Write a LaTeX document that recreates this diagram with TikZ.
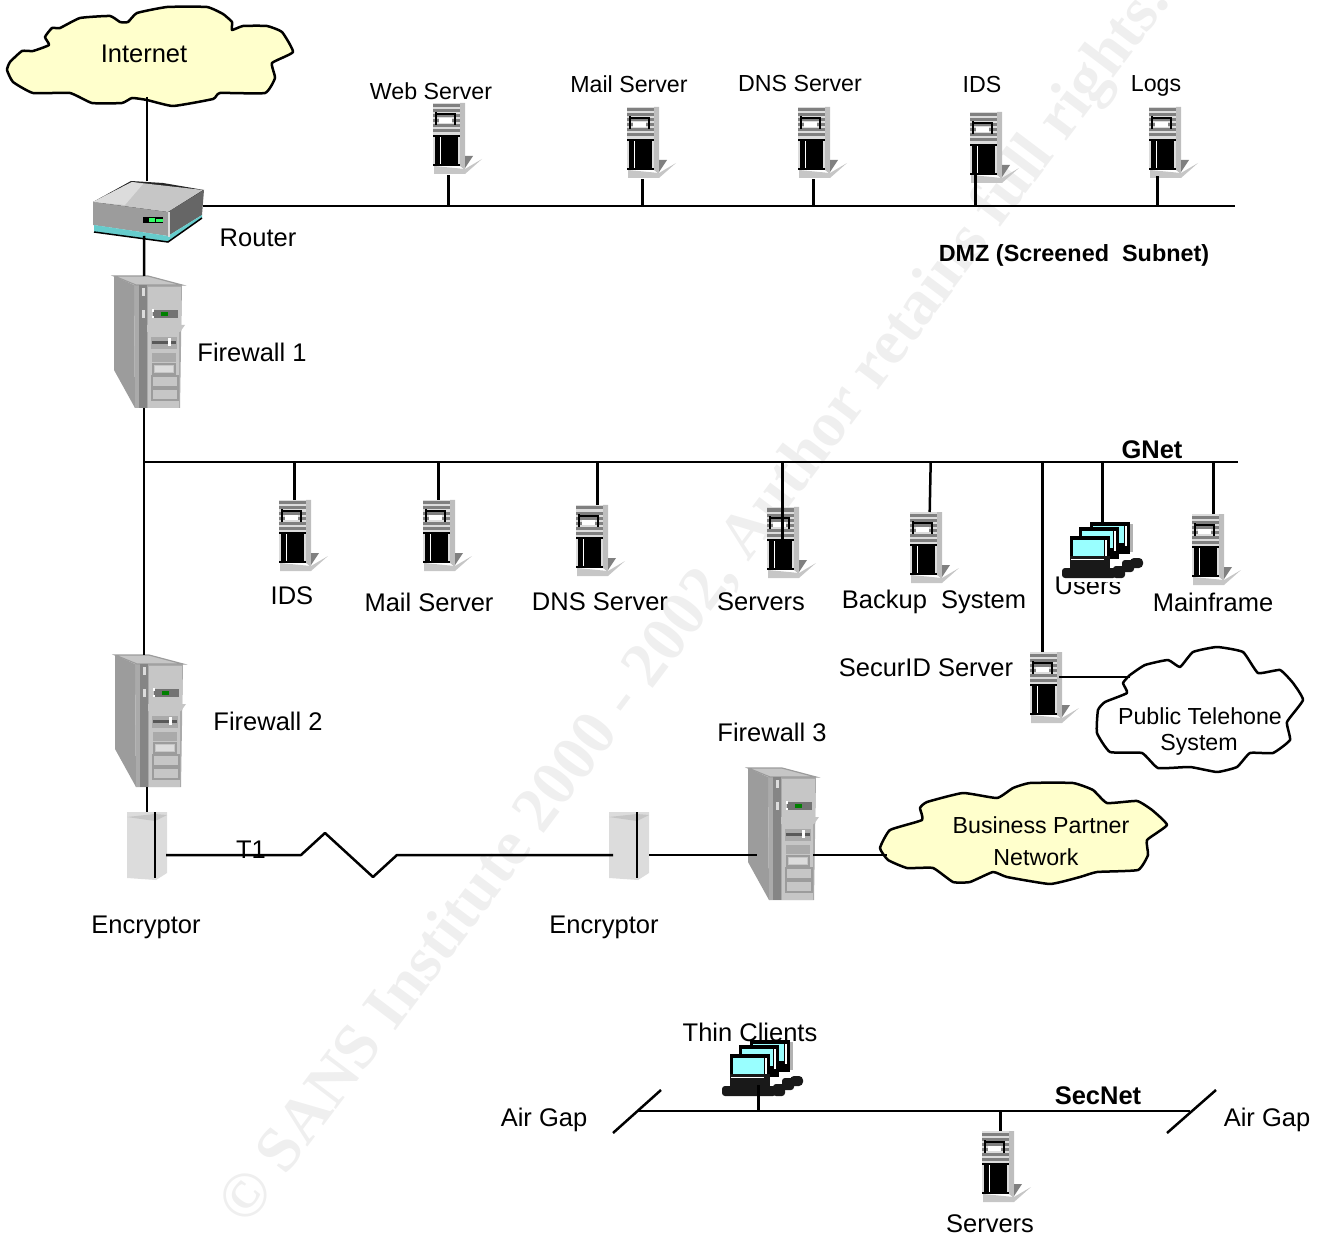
\documentclass[tikz,border=0pt]{standalone}
\usepackage{fontspec}
\setmainfont{Liberation Sans}
\newfontfamily\markfont{Liberation Serif}

\definecolor{cloudfill}{HTML}{FFFFCC}
\definecolor{srvlight}{HTML}{DCDCDC}
\definecolor{srvside}{HTML}{BEBEBE}
\definecolor{twrdark}{HTML}{9C9C9C}
\definecolor{twrmid}{HTML}{AAAAAA}
\definecolor{twrlight}{HTML}{C6C6C6}
\definecolor{pcscreen}{HTML}{99FFFF}
\definecolor{routerbase}{HTML}{66CCCC}
\definecolor{led}{HTML}{33FF66}
\definecolor{markgray}{HTML}{EFEFEF}

\tikzset{
    wire/.style={draw=black, line width=2.5pt},
    cloudline/.style={draw=black, line width=2.5pt, line join=round},
    lab/.style={font=\fontsize{25.5}{30}\selectfont, inner sep=0pt},
    smalllab/.style={font=\fontsize{23.2}{28}\selectfont, inner sep=0pt},
    boldlab/.style={font=\fontsize{25.5}{30}\selectfont\bfseries, inner sep=0pt},
    srvbox/.style={anchor=north west, minimum width=31pt, minimum height=72pt, inner sep=0pt},
    twrbox/.style={anchor=north west, minimum width=72pt, minimum height=132pt, inner sep=0pt},
    pcbox/.style={anchor=north west, minimum width=81pt, minimum height=58pt, inner sep=0pt},
    encbox/.style={anchor=north west, minimum width=40pt, minimum height=68pt, inner sep=0pt},
    routerbox/.style={anchor=north west, minimum width=111pt, minimum height=62pt, inner sep=0pt},
    rackserver/.pic={
        \fill[srvlight] (0,0) rectangle (27,63);
        \fill[srvside] (27,0) -- (32,0) -- (32,67) -- (27,63) -- cycle;
        \fill[twrlight] (1,63) -- (32,66) -- (49,56) -- (32,71) -- (1,71) -- cycle;
        \fill[gray] (32,53) -- (40,53) -- (32,65) -- cycle;
        \foreach \yy in {3,8,...,28}
            \draw[gray, line width=3pt] (0,\yy) -- (27,\yy);
        \draw[black, line width=1.5pt] (3,11) -- (22,11) -- (22,22) (3,9) -- (3,22);
        \fill[white] (6,15) rectangle (19,20);
        \fill[black] (2,33) rectangle (25,62);
        \draw[black, line width=2pt] (0,33) -- (27,33);
        \draw[black, line width=2pt] (0,62) -- (27,62);
        \draw[white, line width=0.8pt] (7,34) -- (7,61);
    },
    towerpc/.pic={
        \fill[twrmid] (20,9) -- (68,9) -- (66,132) -- (21,132) -- cycle;
        \fill[twrdark] (0,0) -- (20,9) -- (21,132) -- (0,94) -- cycle;
        \fill[twrlight] (0,0) -- (34,0) -- (68,9) -- (22,9) -- cycle;
        \draw[twrdark, line width=1.2pt] (0,0) -- (34,0) -- (68,9) -- (22,9) -- cycle;
        \fill[twrlight] (34,11) rectangle (67,49);
        \fill[black!55] (39,34) rectangle (64,42);
        \fill[green!50!black] (47,36) rectangle (54,40);
        \fill[white] (38,33) rectangle (40,36);
        \fill[white] (38,40) rectangle (40,42);
        \fill[twrlight] (30,49) -- (71,49) -- (66,56) -- (30,56) -- cycle;
        \fill[twrlight] (34,56) rectangle (65,132);
        \fill[twrmid] (37,61) rectangle (63,73);
        \fill[black!65] (38,65) rectangle (62,68);
        \fill[white] (54,62) rectangle (57,70);
        \fill[twrmid] (38,77) rectangle (62,86);
        \fill[srvlight] (41,90) rectangle (59,96);
        \draw[twrdark, line width=2pt] (39,88) rectangle (61,98);
        \draw[twrdark, line width=2pt] (38,100) rectangle (64,111);
        \draw[twrdark, line width=2pt] (38,113) rectangle (64,124);
        \fill[twrdark!85!black] (25,9) rectangle (33,132);
        \fill[srvlight] (28,12) rectangle (31,20);
        \fill[srvlight] (28,34) rectangle (31,42);
    },
    pcstack/.pic={
        \fill[gray!60] (68,2) rectangle (71,30);
        \foreach \mx/\my in {28/0,17/5,8/14} {
            \fill[black] (\mx,\my) rectangle ++(40,32);
            \fill[pcscreen] (\mx+3,\my+4) rectangle ++(31,17);
            \fill[white] (\mx+35,\my+4) rectangle ++(2,20);
        }
        \fill[black!90] (8,34) rectangle (48,46);
        \fill[white] (9,37) rectangle (42,38);
        \fill[black!90, rounded corners=3pt] (51,44) rectangle (63,56);
        \fill[black!90, rounded corners=3pt] (60,38) rectangle (72,50);
        \fill[black!90, rounded corners=4pt] (68,36) rectangle (81,46);
        \fill[black!90, rounded corners=3pt] (0,46) rectangle (54,56);
    },
    routerpc/.pic={
        \fill[black!85] (38,0) -- (70,2) -- (111,9) -- (75,34) -- (0,21) -- cycle;
        \fill[twrlight] (39,1) -- (110,9) -- (75,31) -- (0,21) -- cycle;
        \fill[srvlight] (0,21) -- (39,1) -- (50,3) -- (32,24) -- cycle;
        \fill[twrdark] (0,21) -- (75,31) -- (75,55) -- (0,44) -- cycle;
        \fill[black!60] (75,31) -- (111,9) -- (109,34) -- (75,55) -- cycle;
        \fill[routerbase] (1,44) -- (75,55) -- (109,34) -- (109,37) -- (75,61) -- (1,51) -- cycle;
        \draw[black, line width=1.5pt] (1,51) -- (75,61) -- (109,37);
        \fill[black] (50,36) rectangle (70,42);
        \fill[led] (56,37) rectangle (62,41);
        \fill[led] (63,38) rectangle (70,41);
        \fill[srvlight] (75,31) rectangle (77,56);
    },
    encryptorbox/.pic={
        \fill[srvlight] (0,0) -- (40,0) -- (40,61) -- (29,68) -- (0,66) -- cycle;
        \fill[twrlight] (0,5) -- (28,2) -- (40,3) -- (28,9) -- cycle;
        \draw[black, line width=2.5pt] (28,0) -- (28,66);
    },
}

\begin{document}
\begin{tikzpicture}[x=1pt, y=-1pt]
    \useasboundingbox (0,0) rectangle (1318,1238);

    % watermark
    \node[text=markgray, font=\fontsize{64}{70}\selectfont\markfont\bfseries, inner sep=0pt, rotate=53] (markline) at (697,605)
        {© SANS Institute 2000 - 2002, Author retains full rights.};

    % clouds
    \draw[cloudline, fill=cloudfill] plot[smooth cycle, tension=0.25] coordinates {
        (7,70) (10,62) (22,51) (33,51) (49,45) (45,37) (52,28) (60,28) (80,18) (110,16)
        (120,22) (128,22) (137,13) (167,7) (207,7) (223,14) (232,22) (232,30) (243,26)
        (267,26) (282,32) (293,52) (272,63) (275,78) (265,93) (220,93) (213,99) (173,106)
        (147,100) (132,98) (122,103) (92,103) (70,93) (33,93) (13,82)};
    \draw[cloudline, fill=white] plot[smooth cycle, tension=0.25] coordinates {
        (1130,675) (1145,665) (1168,660) (1180,667) (1193,652) (1217,647) (1243,652)
        (1258,673) (1280,670) (1293,683) (1303,700) (1287,722) (1290,740) (1273,753)
        (1250,753) (1237,767) (1217,772) (1190,767) (1158,768) (1142,753) (1110,752)
        (1097,733) (1098,710) (1105,702) (1127,693) (1123,683)};
    \draw[cloudline, fill=cloudfill] plot[smooth cycle, tension=0.25] coordinates {
        (880,848) (890,830) (922,820) (920,808) (927,802) (963,793) (997,798) (1013,788)
        (1030,783) (1073,783) (1093,790) (1107,803) (1137,801) (1152,810) (1167,825)
        (1147,840) (1148,855) (1138,870) (1097,872) (1080,877) (1050,884) (1007,877)
        (993,872) (970,882) (953,882) (933,868) (907,868) (888,860)};

    % labels
    \node[lab] (inettxt) at (144,54) {Internet};
    \node[smalllab] (webtxt) at (431,91) {Web Server};
    \node[smalllab] (mailtxt) at (629,84) {Mail Server};
    \node[smalllab] (dnstxt) at (800,84) {DNS Server};
    \node[smalllab] (idstxt) at (982,85) {IDS};
    \node[smalllab] (logstxt) at (1156,86) {Logs};
    \node[lab] (routertxt) at (258,238) {Router};
    \node[lab] (fwatxt) at (252,352) {Firewall 1};
    \node[smalllab, font=\fontsize{23.4}{28}\selectfont\bfseries] (dmztxt) at (1074,255) {DMZ (Screened\ \ Subnet)};
    \node[boldlab] (gnettxt) at (1152,450) {GNet};
    \node[lab] (gidstxt) at (292,596) {IDS};
    \node[lab] (gmailtxt) at (429,602) {Mail Server};
    \node[lab] (gdnstxt) at (600,602) {DNS Server};
    \node[lab] (gsrvtxt) at (761,602) {Servers};
    \node[lab] (backtxt) at (934,602) {Backup\ \ System};
    \node[lab] (userstxt) at (1088,586) {Users};
    \node[lab] (maintxt) at (1213,602) {Mainframe};
    \node[lab] (securtxt) at (926,668) {SecurID Server};
    \node[smalllab] (pstntxt) at (1200,716) {Public Telehone};
    \node[smalllab] (systxt) at (1199,745) {System};
    \node[lab] (fwbtxt) at (268,721) {Firewall 2};
    \node[lab] (fwctxt) at (772,732) {Firewall 3};
    \node[lab] (tonetxt) at (251,850) {T1};
    \node[smalllab] (bustxt) at (1041,825) {Business Partner};
    \node[smalllab] (nettxt) at (1036,857) {Network};
    \node[lab] (encatxt) at (146,927) {Encryptor};
    \node[lab] (encbtxt) at (604,927) {Encryptor};
    \node[lab] (thintxt) at (750,1032) {Thin Clients};
    \node[lab] (gapatxt) at (544,1120) {Air Gap};
    \node[boldlab] (sectxt) at (1098,1096) {SecNet};
    \node[lab] (gapbtxt) at (1267,1120) {Air Gap};
    \node[lab] (ssrvtxt) at (990,1224) {Servers};

    % equipment
    \node[routerbox] (routerb) at (93,181) {};
    \pic at (routerb.north west) {routerpc};
    \node[twrbox] (fwa) at (114,276) {};
    \pic at (fwa.north west) {towerpc};
    \node[twrbox] (fwb) at (115,655) {};
    \pic at (fwb.north west) {towerpc};
    \node[twrbox] (fwc) at (748,768) {};
    \pic at (fwc.north west) {towerpc};
    \node[encbox] (enca) at (127,812) {};
    \pic at (enca.north west) {encryptorbox};
    \node[encbox] (encb) at (609,812) {};
    \pic at (encb.north west) {encryptorbox};

    \node[srvbox] (webb) at (433,103) {};
    \pic at (webb.north west) {rackserver};
    \node[srvbox] (mailb) at (627,107) {};
    \pic at (mailb.north west) {rackserver};
    \node[srvbox] (dnsb) at (798,107) {};
    \pic at (dnsb.north west) {rackserver};
    \node[srvbox] (idsb) at (970,112) {};
    \pic at (idsb.north west) {rackserver};
    \node[srvbox] (logsb) at (1149,107) {};
    \pic at (logsb.north west) {rackserver};

    \node[srvbox] (gidsb) at (279,500) {};
    \pic at (gidsb.north west) {rackserver};
    \node[srvbox] (gmailb) at (423,500) {};
    \pic at (gmailb.north west) {rackserver};
    \node[srvbox] (gdnsb) at (576,505) {};
    \pic at (gdnsb.north west) {rackserver};
    \node[srvbox] (gsrvb) at (767,507) {};
    \pic at (gsrvb.north west) {rackserver};
    \node[srvbox] (backb) at (910,512) {};
    \pic at (backb.north west) {rackserver};
    \node[srvbox] (mainb) at (1192,514) {};
    \pic at (mainb.north west) {rackserver};
    \node[srvbox] (securb) at (1030,652) {};
    \pic at (securb.north west) {rackserver};
    \node[srvbox] (ssrvb) at (982,1131) {};
    \pic at (ssrvb.north west) {rackserver};

    \node[pcbox, fill=white, minimum width=85pt, minimum height=60pt] (usersb) at (1060,522) {};
    \pic at (1062,522) {pcstack};
    \node[pcbox] (thinb) at (722,1040) {};
    \pic at (thinb.north west) {pcstack};

    % bus ends and free line ends
    \coordinate (dmzl) at (203,206);
    \coordinate (dmzr) at (1235,206);
    \coordinate (gnetl) at (143,462);
    \coordinate (gnetr) at (1238,462);
    \coordinate (secl) at (638,1111);
    \coordinate (secr) at (1190,1111);
    \coordinate (inetfoot) at (147,97);
    \coordinate (routerfoot) at (144,236);
    \coordinate (linka) at (166,855);
    \coordinate (linkb) at (613,855);
    \coordinate (linkc) at (649,855);
    \coordinate (fwcl) at (757,855);
    \coordinate (fwcr) at (813,855);
    \coordinate (buscloud) at (887,855);
    \coordinate (securr) at (1059,677);
    \coordinate (pstncloud) at (1130,677);
    \coordinate (gapa) at (613,1133);
    \coordinate (gapb) at (661,1090);
    \coordinate (gapc) at (1167,1133);
    \coordinate (gapd) at (1216,1090);

    % connectors
    \draw[wire] (inetfoot) -- (inetfoot |- routerb.north);
    \draw[wire] (routerfoot) -- ([xshift=-6pt]fwa.north);
    \draw[wire] ([xshift=-6pt]fwa.south) -- ([xshift=-7pt]fwb.north);
    \draw[wire] ([xshift=-4pt]fwb.south) -- (enca.north);

    \draw[wire] (dmzl) -- (dmzr);
    \draw[wire] (webb.south) -- (webb.south |- dmzl);
    \draw[wire] (mailb.south) -- (mailb.south |- dmzl);
    \draw[wire] (dnsb.south) -- (dnsb.south |- dmzl);
    \draw[wire] ([xshift=-10pt,yshift=12pt]idsb.south) -- ([xshift=-10pt]idsb.south |- dmzl);
    \draw[wire] ([xshift=-7pt,yshift=3pt]logsb.south) -- ([xshift=-7pt]logsb.south |- dmzl);

    \draw[wire] (gnetl) -- (gnetr);
    \draw[wire] (gidsb.north |- gnetl) -- (gidsb.north);
    \draw[wire] (gmailb.north |- gnetl) -- (gmailb.north);
    \draw[wire] ([xshift=6pt]gdnsb.north |- gnetl) -- ([xshift=6pt]gdnsb.north);
    \draw[wire] (gsrvb.north |- gnetl) -- ([yshift=-60pt]gsrvb.north);
    \draw[wire] ([xshift=5pt]backb.north |- gnetl) -- ([xshift=4pt]backb.north);
    \draw[wire] ([xshift=6pt]mainb.north |- gnetl) -- ([xshift=6pt]mainb.north);
    \draw[wire] ([xshift=-3pt]securb.north |- gnetl) -- ([xshift=-3pt]securb.north);
    \draw[wire] (usersb.north |- gnetl) -- (usersb.north);
    \draw[wire] (securr) -- (pstncloud);

    \draw[wire, line join=round] (linka) -- ++(135,0) -- ++(24,-22) -- ++(48,44) -- ++(24,-22) -- (linkb);
    \draw[wire] (linkc) -- (fwcl);
    \draw[wire] (fwcr) -- (buscloud);

    \draw[wire] (secl) -- (secr);
    \draw[wire] (gapa) -- (gapb);
    \draw[wire] (gapc) -- (gapd);
    \draw[wire] ([xshift=-4pt,yshift=26pt]thinb.south |- secl) -- ([xshift=-4pt]thinb.south |- secl);
    \draw[wire] ([xshift=3pt]ssrvb.north |- secl) -- ([xshift=3pt]ssrvb.north);
\end{tikzpicture}
\end{document}
